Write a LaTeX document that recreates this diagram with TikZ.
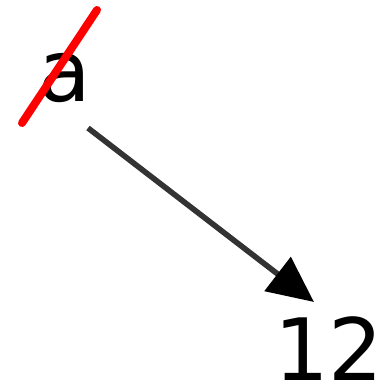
\documentclass[tikz,border=0pt]{standalone}
\usepackage{fontspec}
\setmainfont{DejaVu Sans}
\usetikzlibrary{arrows.meta}
\tikzset{
  lbl/.style={inner sep=0pt, font=\fontsize{43}{43}\selectfont},
  strike/.style={red, line width=4pt, line cap=round},
  conn/.style={draw=black!80, line width=2.8pt, -{Triangle[length=23pt,width=21pt,color=black]}}
}
\begin{document}
\begin{tikzpicture}[x=0.5pt,y=-0.5pt]
\useasboundingbox (0,0) rectangle (386,384);
\node[lbl] (a) at (65,78) {a};
\node[lbl,anchor=base] (b) at (329,381) {12};
\coordinate (s1) at (22,123);
\coordinate (s2) at (97,10);
\draw[strike] (s1) -- (s2);
\coordinate (c1) at (88,128);
\coordinate (c2) at (314,302);
\draw[conn] (c1) -- (c2);
\end{tikzpicture}
\end{document}
